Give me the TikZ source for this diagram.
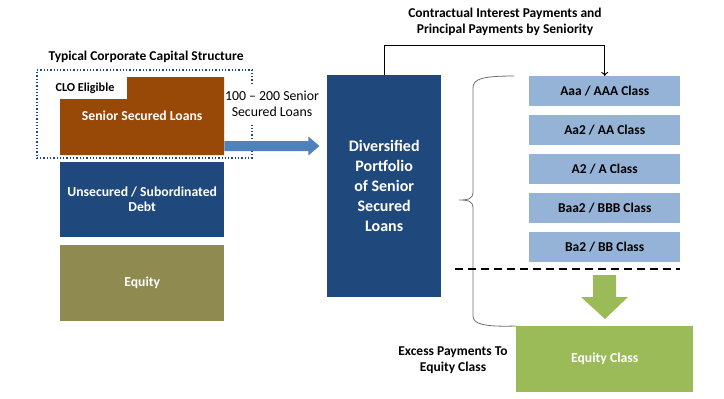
\documentclass[tikz,border=0pt]{standalone}
\usepackage{fontspec}
\setmainfont{Carlito}
\usetikzlibrary{arrows.meta,calc}
\definecolor{dblue}{HTML}{1F497D}
\definecolor{brownc}{HTML}{984807}
\definecolor{olive}{HTML}{8E8A50}
\definecolor{lblue}{HTML}{95B3D7}
\definecolor{greenc}{HTML}{9BBB59}
\definecolor{ablue}{HTML}{4F81BD}
\definecolor{braceg}{HTML}{6F6F6F}
\begin{document}
\begin{tikzpicture}[x=1pt,y=-1pt,
  box/.style={inner sep=0pt, anchor=north west, align=center, font=\fontsize{13.7}{15}\selectfont\bfseries, text=white},
  cls/.style={fill=lblue, inner sep=0pt, anchor=north west, minimum width=151pt, minimum height=29.5pt, font=\fontsize{13.5}{15}\selectfont\bfseries},
  lbl/.style={align=center, inner sep=0pt, font=\fontsize{13.5}{16}\selectfont\bfseries}]
\useasboundingbox (0,0) rectangle (724,399);

% title
\node[lbl] (title) at (146,57) {Typical Corporate Capital Structure};

% dotted CLO eligible frame
\draw[dblue, line width=1.3pt, dotted] (252,84) -- (252,70) -- (37,70) -- (37,158) -- (252,158) -- (252,125);

% senior secured loans (notched)
\fill[brownc] (60,99) -- (127,99) -- (127,77) -- (224,77) -- (224,155) -- (60,155) -- cycle;
\node[box, minimum width=164pt, minimum height=78pt] (ssl) at (60,77) {Senior Secured Loans};
\node[lbl, font=\fontsize{12.2}{14}\selectfont\bfseries] (clo) at (85,88) {CLO Eligible};

\node[box, fill=dblue, minimum width=164pt, minimum height=75pt] (uns) at (60,162) {Unsecured / Subordinated\\Debt};
\node[box, fill=olive, minimum width=164pt, minimum height=76pt] (eq) at (60,245) {Equity};

% 100-200 label
\node[align=center, inner sep=0pt, font=\fontsize{13.8}{15.5}\selectfont] (cnt) at (272,104) {100 -- 200 Senior\\Secured Loans};

% portfolio
\node[box, fill=dblue, minimum width=114pt, minimum height=222pt, font=\fontsize{16}{20}\selectfont\bfseries] (port) at (327,75) {Diversified\\Portfolio\\of Senior\\Secured\\Loans};

% blue arrow
\coordinate (a0) at (ssl.east |- 146,146);
\fill[ablue] ($(a0)+(0,-5)$) -- ++(84,0) -- ++(0,-4.5) -- ($(a0)+(95,0)$) -- ($(a0)+(84,9.5)$) -- ++(0,-4.5) -- ($(a0)+(0,5)$) -- cycle;

% classes
\node[cls] (aaa) at (529,76) {Aaa / AAA Class};
\node[cls] (aa) at (529,115) {Aa2 / AA Class};
\node[cls] (a) at (529,154) {A2 / A Class};
\node[cls] (baa) at (529,193) {Baa2 / BBB Class};
\node[cls] (ba) at (529,232) {Ba2 / BB Class};

% top connector
\draw[line width=0.9pt, -{To[length=4pt,width=7pt]}] (port.north) -- ++(0,-30) -| (aaa.north);
\node[lbl] (toplbl) at (505,22) {Contractual Interest Payments and\\Principal Payments by Seniority};

% equity class
\node[box, fill=greenc, minimum width=177pt, minimum height=66pt] (eqc) at (516,326) {Equity Class};

% brace
\draw[braceg, line width=0.8pt] (514,76) .. controls (482,76) and (473,79) .. (473,88) -- (473,192) .. controls (473,199) and (468,200) .. (459,200) .. controls (468,200) and (473,201) .. (473,208) -- (473,316) .. controls (473,324) and (484,327) .. (eqc.north west);

% dashed separator
\draw[line width=1.6pt, dash pattern=on 8pt off 5pt] (455,269) -- (ba.south east |- 455,269);

% green arrow
\fill[greenc] (593,275) -- (616,275) -- (616,297) -- (628,297) -- (605,319) -- (581,297) -- (593,297) -- cycle;

\node[lbl] (excess) at (453,360) {Excess Payments To\\Equity Class};
\end{tikzpicture}
\end{document}
